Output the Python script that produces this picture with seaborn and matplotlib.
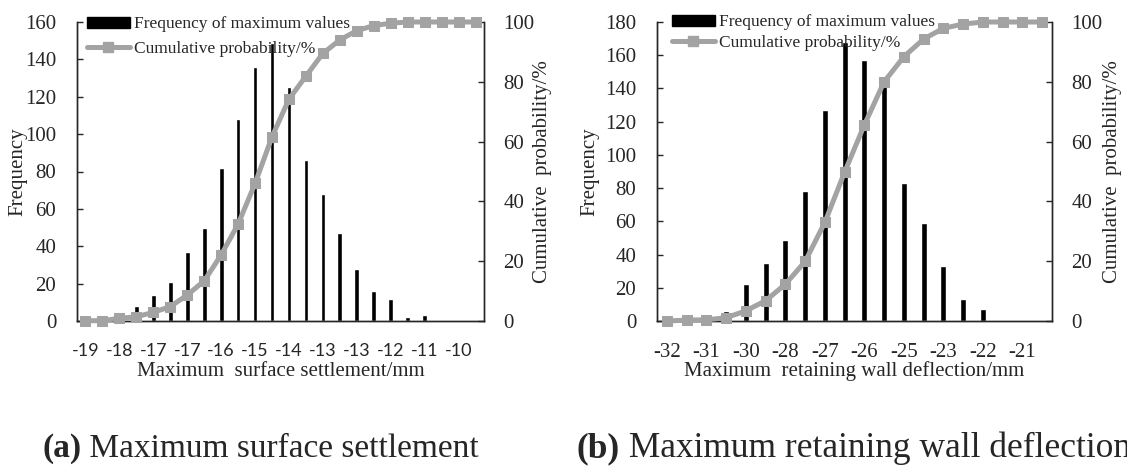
import numpy as np
import matplotlib
matplotlib.use("Agg")
import matplotlib.pyplot as plt
from matplotlib.patches import Patch
from matplotlib.lines import Line2D
import seaborn as sns

# ---------------- data ----------------
ticklabels_a = ['-19', '', '-18', '', '-17', '', '-17', '', '-16', '', '-15', '',
                '-14', '', '-13', '', '-13', '', '-12', '', '-11', '', '-10', '']
freq_a = [0, 0, 0, 8, 14, 21, 37, 50, 82, 108, 136, 149, 125, 86, 68, 47, 28, 16,
          12, 2, 3, 0, 0, 0]
cum_a = [0.1, 0.1, 0.9, 1.4, 2.9, 4.8, 8.7, 13.4, 22.1, 32.4, 46.0, 61.6, 74.2,
         81.9, 89.5, 94.0, 97.1, 98.8, 99.6, 100, 100, 100, 100, 100]

ticklabels_b = ['-32', '', '-31', '', '-30', '', '-28', '', '-27', '', '-26', '',
                '-25', '', '-23', '', '-22', '', '-21', '']
freq_b = [0, 0, 0, 6, 22, 35, 49, 78, 127, 168, 157, 142, 83, 59, 33, 13, 7, 0.5,
          0, 0]
cum_b = [0, 0.3, 0.4, 1.1, 3.4, 6.8, 12.3, 19.9, 33.0, 49.8, 65.6, 80.0, 88.4,
         94.3, 97.9, 99.3, 100, 100, 100, 100]

legend_labels = ['Frequency of maximum values', 'Cumulative probability/%']
ylabel_left = 'Frequency'
ylabel_right = 'Cumulative  probability/%'
xlabel_a = 'Maximum  surface settlement/mm'
xlabel_b = 'Maximum  retaining wall deflection/mm'
caption_a = ('(a)', ' Maximum surface settlement')
caption_b = ('(b)', ' Maximum retaining wall deflection')

# ---------------- style ----------------
sns.set_style('white')
plt.rcParams['font.family'] = ['Liberation Serif', 'DejaVu Serif']
plt.rcParams['axes.linewidth'] = 1.0

W, H = 1127, 470
fig = plt.figure(figsize=(W / 100, H / 100), dpi=100)

GRAY = '#a3a3a3'
SERIF = 'Liberation Serif'


def panel(rect, labels, freq, cum, ymax, xlabel, tick_font, tick_size, bar_w,
          ylabel_x, rlabel_x, leg_x, leg_y, leg_space):
    ax = fig.add_axes([rect[0] / W, 1 - rect[3] / H, (rect[2] - rect[0]) / W,
                       (rect[3] - rect[1]) / H])
    n = len(freq)
    idx = np.arange(n)
    sns.barplot(x=idx, y=freq, ax=ax, color='black', saturation=1, width=bar_w)
    ax.set_xlim(-0.5, n - 0.5)
    ax.set_ylim(0, ymax)
    ax.set_yticks(np.arange(0, ymax + 1, 20))
    ax.tick_params(axis='y', direction='in', length=4, width=1, labelsize=15,
                   pad=15)
    for t in ax.get_yticklabels():
        t.set_fontfamily(SERIF)
    ax.set_xticks(idx)
    ax.set_xticklabels(labels, fontfamily=tick_font, fontsize=tick_size)
    ax.tick_params(axis='x', which='major', length=0, pad=16)
    ax.set_xticks(np.arange(-0.5, n, 1.0), minor=True)
    ax.tick_params(axis='x', which='minor', direction='in', length=4, width=1)
    ax.spines['top'].set_visible(False)
    ax.set_xlabel('')
    ax.set_ylabel('')

    ax2 = ax.twinx()
    sns.lineplot(x=idx, y=cum, ax=ax2, color=GRAY, linewidth=3.6, marker='s',
                 markersize=7.2, markeredgecolor=GRAY, markerfacecolor=GRAY,
                 clip_on=False, zorder=5)
    ax2.set_ylim(0, 100)
    ax2.set_yticks(np.arange(0, 101, 20))
    ax2.tick_params(axis='y', direction='in', length=4, width=1, labelsize=15,
                    pad=14)
    for t in ax2.get_yticklabels():
        t.set_fontfamily(SERIF)
    ax2.spines['top'].set_visible(False)
    ax2.set_xlim(-0.5, n - 0.5)
    ax2.set_ylabel('')

    fig.text((rect[0] + rect[2]) / 2 / W, 1 - 371 / H, xlabel, ha='center',
             va='center', fontsize=15, fontfamily=SERIF)
    fig.text(ylabel_x / W, 1 - (rect[1] + rect[3]) / 2 / H, ylabel_left,
             rotation=90, ha='center', va='center', fontsize=15, fontfamily=SERIF)
    fig.text(rlabel_x / W, 1 - (rect[1] + rect[3]) / 2 / H, ylabel_right,
             rotation=90, ha='center', va='center', fontsize=15, fontfamily=SERIF)

    handles = [Patch(facecolor='black', edgecolor='black'),
               Line2D([0], [0], color=GRAY, linewidth=3.6, marker='s',
                      markersize=7.2, markerfacecolor=GRAY, markeredgecolor=GRAY)]
    ax2.legend(handles, legend_labels, loc='upper left',
               bbox_to_anchor=(leg_x / W, 1 - leg_y / H),
               bbox_transform=fig.transFigure, frameon=False,
               prop={'family': SERIF, 'size': 12.5}, handlelength=2.45,
               handleheight=0.6, handletextpad=0.28, labelspacing=leg_space,
               borderaxespad=0, borderpad=0, numpoints=1)
    return ax, ax2


panel((77, 22, 484, 321), ticklabels_a, freq_a, cum_a, 160, xlabel_a,
      'Lato', 13, 0.28, 18, 542, 87, 16.5, 0.48)
panel((657, 22, 1052, 321), ticklabels_b, freq_b, cum_b, 180, xlabel_b,
      SERIF, 15, 0.3, 590, 1112, 672, 14.5, 0.25)

fig.canvas.draw()
r = fig.canvas.get_renderer()


def caption(x, y, parts, size):
    t1 = fig.text(x / W, 1 - y / H, parts[0], fontsize=size, fontweight='bold',
                  fontfamily=SERIF, va='baseline')
    bb = t1.get_window_extent(renderer=r)
    fig.text(bb.x1 / W, 1 - y / H, parts[1], fontsize=size, fontfamily=SERIF,
             va='baseline')


caption(42, 457, caption_a, 24)
caption(577, 457, caption_b, 25.5)

fig.savefig('out.png', dpi=100)
